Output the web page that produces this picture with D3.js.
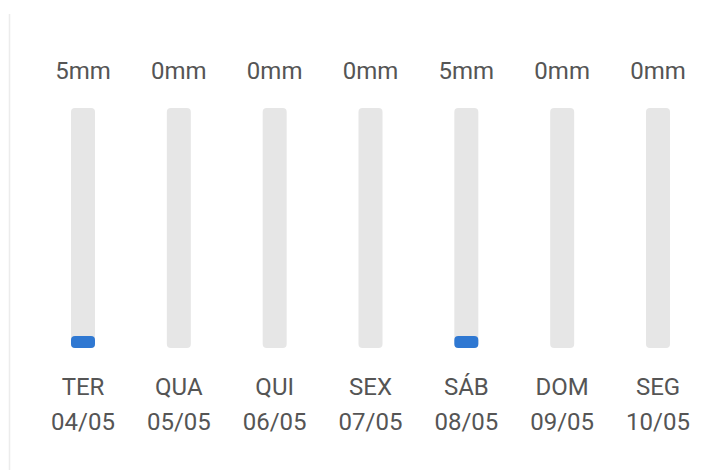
<!DOCTYPE html>
<html>
<head>
<meta charset="utf-8">
<script src="https://cdn.jsdelivr.net/npm/d3@7"></script>
<style>
  html, body { margin: 0; padding: 0; background: #fff; }
  svg { display: block; font-family: Roboto, "Noto Sans", sans-serif; }
</style>
</head>
<body>
<svg id="chart" width="727" height="470"></svg>
<script>
// data
const days = ['TER', 'QUA', 'QUI', 'SEX', 'SÁB', 'DOM', 'SEG'];
const dates = ['04/05', '05/05', '06/05', '07/05', '08/05', '09/05', '10/05'];
const rain = [5, 0, 0, 0, 5, 0, 0];
const maxRain = 100;

const svg = d3.select('#chart');

// left divider
svg.append('line')
    .attr('x1', 9.5).attr('x2', 9.5)
    .attr('y1', 14).attr('y2', 470)
    .attr('stroke', '#ececec').attr('stroke-width', 1.5);

const x = d3.scalePoint().domain(days).range([83, 658]);
const y = d3.scaleLinear().domain([0, maxRain]).range([348, 108]);
const barW = 24;

const g = svg.selectAll('g.day')
    .data(days.map((d, i) => ({ day: d, date: dates[i], v: rain[i] })))
    .enter().append('g')
    .attr('class', 'day')
    .attr('transform', d => 'translate(' + x(d.day) + ',0)');

// track
g.append('rect')
    .attr('x', -barW / 2).attr('width', barW)
    .attr('y', y(maxRain)).attr('height', y(0) - y(maxRain))
    .attr('rx', 4)
    .attr('fill', '#e6e6e6');

// value
g.filter(d => d.v > 0).append('rect')
    .attr('x', -barW / 2).attr('width', barW)
    .attr('y', d => y(d.v)).attr('height', d => y(0) - y(d.v))
    .attr('rx', 4)
    .attr('fill', '#2f78d2');

const fs = 24;
g.append('text')
    .attr('y', 79).attr('text-anchor', 'middle')
    .attr('font-size', fs).attr('fill', '#555')
    .text(d => d.v + 'mm');

g.append('text')
    .attr('y', 395).attr('text-anchor', 'middle')
    .attr('font-size', fs).attr('fill', '#555')
    .text(d => d.day);

g.append('text')
    .attr('y', 430).attr('text-anchor', 'middle')
    .attr('font-size', fs).attr('fill', '#555')
    .text(d => d.date);
</script>
</body>
</html>
